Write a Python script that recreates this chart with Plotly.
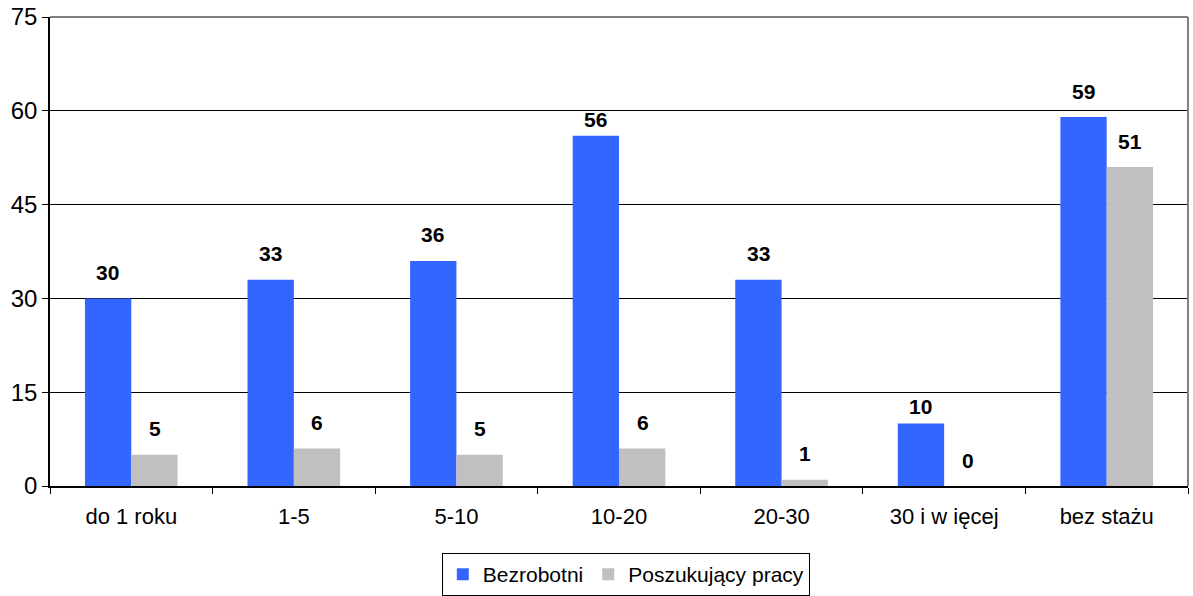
import plotly.graph_objects as go

categories = ["do 1 roku", "1-5", "5-10", "10-20", "20-30", "30 i w ięcej", "bez stażu"]
bezrobotni = [30, 33, 36, 56, 33, 10, 59]
poszukujacy = [5, 6, 5, 6, 1, 0, 51]
y_ticks = [0, 15, 30, 45, 60, 75]

BLUE = "#3366FF"
GRAY = "#C0C0C0"
FONT = "Liberation Sans, Arial, sans-serif"

fig = go.Figure()
fig.add_trace(go.Bar(name="Bezrobotni", x=categories, y=bezrobotni,
                     marker=dict(color=BLUE, line=dict(width=0))))
fig.add_trace(go.Bar(name="Poszukujący pracy", x=categories, y=poszukujacy,
                     marker=dict(color=GRAY, line=dict(width=0))))

# label offsets above bars (px)
default_shift = 26
special = {(0, 3): 16, (0, 5): 17}
for s, (vals, xs) in enumerate([(bezrobotni, -23.5), (poszukujacy, 23.5)]):
    for i, v in enumerate(vals):
        fig.add_annotation(x=categories[i], y=v, xref="x", yref="y",
                           text=f"<b>{v}</b>", showarrow=False,
                           xshift=xs, yshift=special.get((s, i), default_shift),
                           font=dict(family=FONT, size=21, color="#000"))

fig.update_layout(
    width=1193, height=596,
    margin=dict(l=50, r=5, t=17, b=110, autoexpand=False),
    plot_bgcolor="white", paper_bgcolor="white",
    barmode="group", bargap=0.43, bargroupgap=0,
    font=dict(family=FONT, size=22, color="#000"),
    showlegend=True,
    legend=dict(orientation="h", x=0.506, xanchor="center", y=-0.143, yanchor="top",
                bordercolor="#000", borderwidth=1, font=dict(size=21),
                itemwidth=30, traceorder="normal"),
    xaxis=dict(showline=True, linecolor="#000", linewidth=1.5,
               ticks="outside", ticklen=6, tickcolor="#000",
               tickson="boundaries", showgrid=False, automargin=False,
               ticklabelstandoff=10, tickfont=dict(size=22)),
    yaxis=dict(range=[0, 75], tickvals=y_ticks, showline=True, linecolor="#000",
               linewidth=1.5, ticks="outside", ticklen=6, tickcolor="#000",
               showgrid=True, gridcolor="#000", gridwidth=1, zeroline=False,
               automargin=False, tickfont=dict(size=24)),
)
fig.add_shape(type="line", xref="paper", yref="paper", x0=0, x1=1, y0=1, y1=1,
              line=dict(color="#808080", width=2))
fig.add_shape(type="line", xref="paper", yref="paper", x0=1, x1=1, y0=0, y1=1,
              line=dict(color="#808080", width=2))

fig.write_html("out.html", config={"displayModeBar": False},
               post_script="document.body.style.margin='0';document.body.style.overflow='hidden';")
